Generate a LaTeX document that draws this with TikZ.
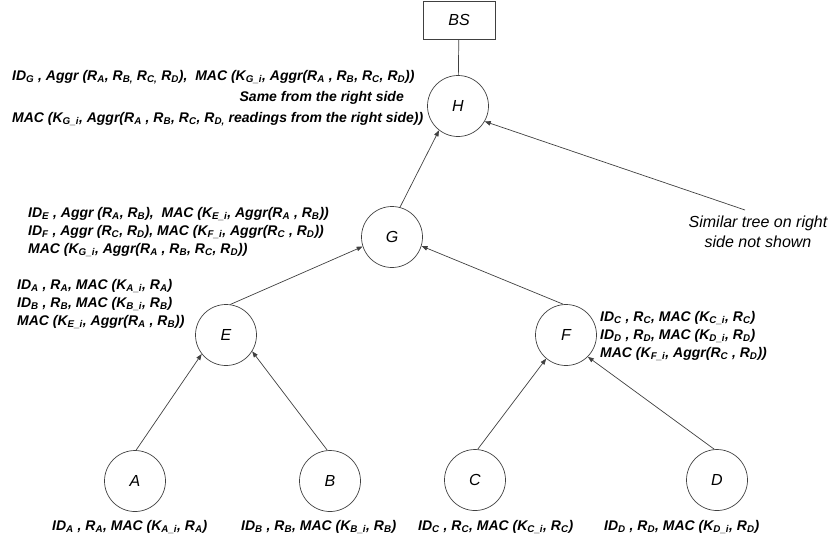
\documentclass[tikz,border=0pt]{standalone}
\usepackage{fontspec}
\setmainfont{Liberation Sans}
\usetikzlibrary{arrows.meta}
\newcommand\subs[1]{\textsubscript{#1}}
\definecolor{linegray}{HTML}{404040}
\begin{document}
\begin{tikzpicture}[x=1pt,y=-1pt,
  every node/.style={inner sep=0pt},
  circ/.style={circle,draw=linegray,line width=0.7pt,minimum size=61pt,font=\fontsize{16}{16}\selectfont\itshape},
  boxnode/.style={draw=linegray,line width=0.7pt,minimum width=72pt,minimum height=38pt,font=\fontsize{16}{16}\selectfont\itshape},
  conn/.style={draw=linegray,line width=0.7pt,-{Triangle[length=6pt,width=4.5pt]}},
  plainconn/.style={draw=linegray,line width=0.7pt},
  lbl/.style={anchor=base west,font=\fontsize{14}{14}\selectfont\bfseries\itshape},
  lble/.style={anchor=base east,font=\fontsize{14}{14}\selectfont\bfseries\itshape},
  note/.style={align=center,font=\fontsize{16}{20}\selectfont\itshape},
]
\useasboundingbox (0,0) rectangle (834,550);

% nodes
\node[boxnode] (BS) at (459,20) {BS};
\node[circ] (H) at (458,106) {H};
\node[circ] (G) at (392,237) {G};
\node[circ] (E) at (226,335) {E};
\node[circ] (F) at (566,335) {F};
\node[circ] (A) at (135,481) {A};
\node[circ] (B) at (330,481) {B};
\node[circ] (C) at (475,480) {C};
\node[circ] (D) at (717,480) {D};

% connectors
\draw[plainconn] (BS) -- (H);
\draw[conn] (A.88) -- (E.218);
\draw[conn] (B.95) -- (E.-32);
\draw[conn] (C.85) -- (F.230);
\draw[conn] (D.95) -- (F.-45);
\draw[conn] (E.82) -- (G.198);
\draw[conn] (F.95) -- (G.-17);
\draw[conn] (G.75) -- (H.232);
\coordinate (R) at (745,210);
\draw[conn] (R) -- (H.-30);

% top block
\node[lbl] (t1) at (12,80) {ID\subs{G} , Aggr (R\subs{A}, R\subs{B,} R\subs{C,} R\subs{D}),~ MAC (K\subs{G\_i}, Aggr(R\subs{A} , R\subs{B}, R\subs{C}, R\subs{D}))};
\node[lble] (t2) at (404,101) {Same from the right side};
\node[lbl] (t3) at (12,122) {MAC (K\subs{G\_i}, Aggr(R\subs{A} , R\subs{B}, R\subs{C}, R\subs{D,} readings from the right side))};

% middle block
\node[lbl] (m1) at (28,217) {ID\subs{E} , Aggr (R\subs{A}, R\subs{B}),~ MAC (K\subs{E\_i}, Aggr(R\subs{A} , R\subs{B}))};
\node[lbl] (m2) at (28,235) {ID\subs{F} , Aggr (R\subs{C}, R\subs{D}), MAC (K\subs{F\_i}, Aggr(R\subs{C} , R\subs{D}))};
\node[lbl] (m3) at (28,253) {MAC (K\subs{G\_i}, Aggr(R\subs{A} , R\subs{B}, R\subs{C}, R\subs{D}))};

% left block
\node[lbl] (l1) at (17,289) {ID\subs{A} , R\subs{A}, MAC (K\subs{A\_i}, R\subs{A})};
\node[lbl] (l2) at (17,307) {ID\subs{B} , R\subs{B}, MAC (K\subs{B\_i}, R\subs{B})};
\node[lbl] (l3) at (17,325) {MAC (K\subs{E\_i}, Aggr(R\subs{A} , R\subs{B}))};

% right block
\node[lbl] (r1) at (600,321) {ID\subs{C} , R\subs{C}, MAC (K\subs{C\_i}, R\subs{C})};
\node[lbl] (r2) at (600,339) {ID\subs{D} , R\subs{D}, MAC (K\subs{D\_i}, R\subs{D})};
\node[lbl] (r3) at (600,357) {MAC (K\subs{F\_i}, Aggr(R\subs{C} , R\subs{D}))};

% similar tree note
\node[note,anchor=north] (sim) at (758,216) {Similar tree on right\\side not shown};

% bottom labels
\node[lbl] (ba) at (52,530) {ID\subs{A} , R\subs{A}, MAC (K\subs{A\_i}, R\subs{A})};
\node[lbl] (bb) at (241,530) {ID\subs{B} , R\subs{B}, MAC (K\subs{B\_i}, R\subs{B})};
\node[lbl] (bc) at (418,530) {ID\subs{C} , R\subs{C}, MAC (K\subs{C\_i}, R\subs{C})};
\node[lbl] (bd) at (604,530) {ID\subs{D} , R\subs{D}, MAC (K\subs{D\_i}, R\subs{D})};
\end{tikzpicture}
\end{document}
